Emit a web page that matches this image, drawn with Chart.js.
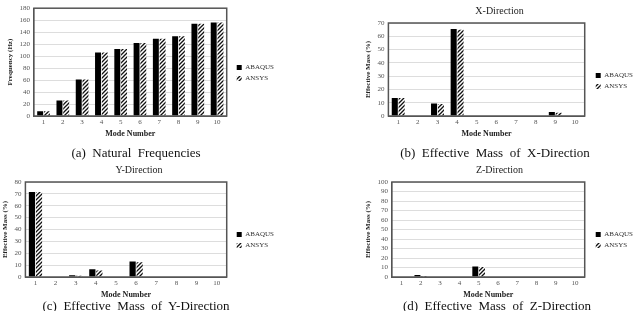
<!DOCTYPE html>
<html>
<head>
<meta charset="utf-8">
<script src="https://cdn.jsdelivr.net/npm/chart.js@4"></script>
<style>
  body { margin: 0; background: #fff; }
  #wrap { position: relative; width: 637px; height: 311px; overflow: hidden; background: #fff; }
  .box { position: absolute; }
  .cap { position: absolute; font-family: "Liberation Serif", serif; font-size: 13px; color: #111; white-space: pre; transform: translateX(-50%); }
</style>
</head>
<body>
<div id="wrap">
  <div class="box" style="left:0;top:0;width:318px;height:140px"><canvas id="c1"></canvas></div>
  <div class="box" style="left:318px;top:0;width:319px;height:140px"><canvas id="c2"></canvas></div>
  <div class="box" style="left:0;top:160px;width:318px;height:140px"><canvas id="c3"></canvas></div>
  <div class="box" style="left:318px;top:160px;width:319px;height:140px"><canvas id="c4"></canvas></div>
  <div class="cap" style="left:136px;top:145px">(a)  Natural  Frequencies</div>
  <div class="cap" style="left:495px;top:145px">(b)  Effective  Mass  of  X-Direction</div>
  <div class="cap" style="left:136px;top:298px">(c)  Effective  Mass  of  Y-Direction</div>
  <div class="cap" style="left:497px;top:298px">(d)  Effective  Mass  of  Z-Direction</div>
</div>
<script>
// mode numbers on x axis
const modes = ['1', '2', '3', '4', '5', '6', '7', '8', '9', '10']

// natural frequencies (Hz)
const freqAbaqus = [8, 26, 61, 106, 112, 122, 129, 133, 154, 156]
const freqAnsys = [8, 26, 61, 106, 112, 122, 129, 133, 154, 156]

// effective mass (%) per direction
const xAbaqus = [13.5, 0, 9.5, 65.5, 0, 0, 0, 0, 3, 0]
const xAnsys = [13.5, 0, 9, 65, 0, 0, 0, 0, 2.5, 0]
const yAbaqus = [71.5, 0, 1.5, 6.5, 0, 13, 0, 0, 0, 0]
const yAnsys = [71.5, 0, 1, 5.5, 0, 12.5, 0, 0, 0, 0]
const zAbaqus = [0, 2, 0, 0, 11, 0, 0, 0, 0, 0]
const zAnsys = [0, 1, 0, 0, 10.5, 0, 0, 0, 0, 0]

const serif = '"Liberation Serif", serif'

// hatch pattern for ANSYS bars
function hatch() {
  const c = document.createElement('canvas')
  c.width = 4; c.height = 4
  const g = c.getContext('2d')
  g.fillStyle = '#fff'
  g.fillRect(0, 0, 4, 4)
  g.strokeStyle = '#111'
  g.lineWidth = 1.3
  g.beginPath()
  g.moveTo(-1, 5); g.lineTo(5, -1)
  g.moveTo(-1, 1); g.lineTo(1, -1)
  g.moveTo(3, 5); g.lineTo(5, 3)
  g.stroke()
  return g.createPattern(c, 'repeat')
}

// frame round the plot area
const frame = {
  id: 'frame',
  afterDraw(chart) {
    const a = chart.chartArea
    const ctx = chart.ctx
    ctx.save()
    ctx.strokeStyle = '#555'
    ctx.lineWidth = 1.5
    ctx.strokeRect(a.left, a.top, a.right - a.left, a.bottom - a.top)
    ctx.restore()
  }
}

// move the legend a little away from the plot
const nudge = {
  id: 'nudge',
  afterLayout(chart, args, opts) {
    const lg = chart.legend
    lg.left += opts.dx; lg.right += opts.dx
    lg.top += opts.dy; lg.bottom += opts.dy
  }
}

function makeChart(id, title, abaqus, ansys, ymax, ystep, ytitle, pad, shift) {
  return new Chart(document.getElementById(id), {
    type: 'bar',
    data: {
      labels: modes,
      datasets: [
        { label: 'ABAQUS', data: abaqus, backgroundColor: '#000' },
        { label: 'ANSYS', data: ansys, backgroundColor: hatch() }
      ]
    },
    options: {
      responsive: true,
      maintainAspectRatio: false,
      animation: false,
      categoryPercentage: 0.7,
      barPercentage: 0.88,
      layout: { padding: pad },
      plugins: {
        title: {
          display: title !== '',
          text: title,
          color: '#222',
          font: { family: serif, size: 10, weight: 'normal' },
          padding: { top: 0, bottom: 6 }
        },
        legend: {
          position: 'right',
          labels: {
            boxWidth: 5, boxHeight: 5, padding: 4,
            color: '#333',
            font: { family: serif, size: 7 }
          }
        },
        nudge: shift,
        tooltip: { enabled: false }
      },
      scales: {
        x: {
          grid: { display: false, drawTicks: false },
          border: { color: '#555' },
          ticks: { color: '#555', font: { family: serif, size: 7 }, padding: 2, maxRotation: 0, autoSkip: false },
          title: { display: true, text: 'Mode Number', color: '#222', font: { family: serif, size: 8, weight: 'bold' }, padding: { top: 1, bottom: 0 } }
        },
        y: {
          min: 0, max: ymax,
          grid: { color: '#ddd', drawTicks: false },
          border: { color: '#555' },
          ticks: { stepSize: ystep, color: '#555', font: { family: serif, size: 7 }, padding: 4, autoSkip: false },
          title: { display: true, text: ytitle, color: '#222', font: { family: serif, size: 7, weight: 'bold' }, padding: 1 }
        }
      }
    },
    plugins: [frame, nudge]
  })
}

makeChart('c1', '', freqAbaqus, freqAnsys, 180, 20, 'Frequency (Hz)', { left: 5, top: 1, right: 40, bottom: 1 }, { dx: 6, dy: 3 })
makeChart('c2', 'X-Direction', xAbaqus, xAnsys, 70, 10, 'Effective Mass (%)', { left: 45, top: 5, right: 1, bottom: 1 }, { dx: 7, dy: 9 })
makeChart('c3', 'Y-Direction', yAbaqus, yAnsys, 80, 10, 'Effective Mass (%)', { left: 0, top: 4, right: 40, bottom: 0 }, { dx: 6, dy: 8 })
makeChart('c4', 'Z-Direction', zAbaqus, zAnsys, 100, 10, 'Effective Mass (%)', { left: 45, top: 4, right: 1, bottom: 0 }, { dx: 7, dy: 8 })
</script>
</body>
</html>
